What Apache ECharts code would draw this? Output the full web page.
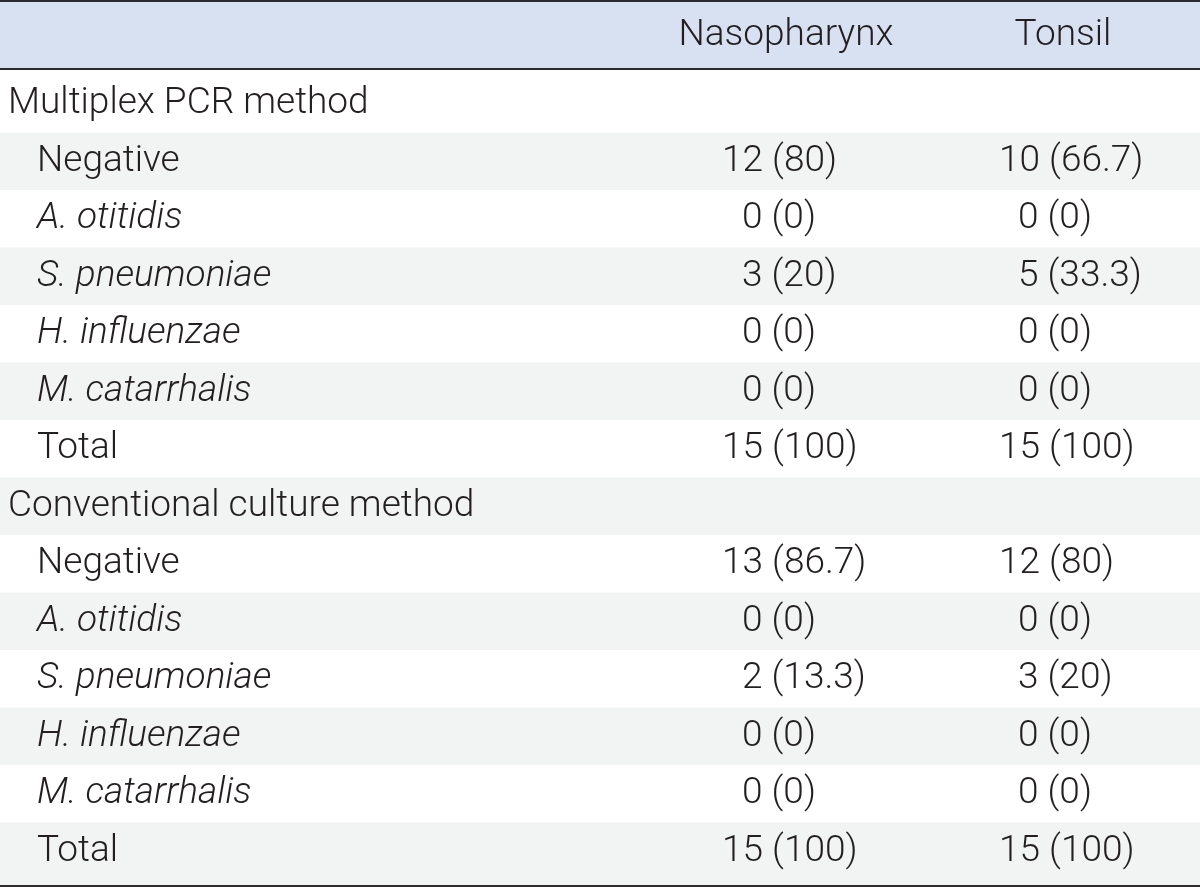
<!DOCTYPE html>
<html>
<head>
<meta charset="utf-8">
<script src="https://cdn.jsdelivr.net/npm/echarts@6/dist/echarts.min.js"></script>
<style>
html,body{margin:0;padding:0;background:#fff;}
#chart{width:1200px;height:887px;}
</style>
</head>
<body>
<div id="chart"></div>
<script>
// ---- data ----
const columnHeaders = ['', 'Nasopharynx', 'Tonsil'];
const rowLabels = [
  'Multiplex PCR method', 'Negative', 'A. otitidis', 'S. pneumoniae', 'H. influenzae', 'M. catarrhalis', 'Total',
  'Conventional culture method', 'Negative', 'A. otitidis', 'S. pneumoniae', 'H. influenzae', 'M. catarrhalis', 'Total'
];
const rowIsGroup = [true, false, false, false, false, false, false, true, false, false, false, false, false, false];
const rowIsSpecies = [false, false, true, true, true, true, false, false, false, true, true, true, true, false];
const nasoCount = [null, 12, 0, 3, 0, 0, 15, null, 13, 0, 2, 0, 0, 15];
const nasoPct = [null, 80, 0, 20, 0, 0, 100, null, 86.7, 0, 13.3, 0, 0, 100];
const tonsilCount = [null, 10, 0, 5, 0, 0, 15, null, 12, 0, 3, 0, 0, 15];
const tonsilPct = [null, 66.7, 0, 33.3, 0, 0, 100, null, 80, 0, 20, 0, 0, 100];

// ---- layout / style ----
const FONT = 'Roboto';
const FONT_SIZE = 37;
const FONT_WEIGHT = 300;
const TEXT_COLOR = '#231f20';
const LINE_COLOR = '#2b2b2b';
const HEADER_BG = '#d8e1f1';
const STRIPE_BG = '#f2f3f3';
const LAYOUT = {
  groupX: 8, itemX: 37,
  headerCenters: [0, 786, 1063],
  valueLeft: [722, 999], singleDigitShift: [20, 19],
  edgePad: 5
};

const fmt = (c, p) => c === null ? '' : c + ' (' + p + ')';
const bodyData = rowLabels.map((l, i) => [600, i]);

function textEl(x, y, str, align, italic) {
  return {
    type: 'text',
    style: {
      x: x, y: y, text: str, align: align, verticalAlign: 'middle',
      fill: TEXT_COLOR, fontFamily: FONT, fontSize: FONT_SIZE, fontWeight: FONT_WEIGHT,
      fontStyle: italic ? 'italic' : 'normal'
    }
  };
}

const option = {
  animation: false,
  backgroundColor: '#ffffff',
  grid: [
    { left: 0, right: 0, top: 0, height: 69 },
    { left: 0, right: 0, top: 75, bottom: 7 }
  ],
  xAxis: [
    { type: 'value', min: 0, max: 1200, gridIndex: 0, show: false },
    { type: 'value', min: 0, max: 1200, gridIndex: 1, show: false }
  ],
  yAxis: [
    { type: 'category', data: ['header'], gridIndex: 0, show: false },
    { type: 'category', data: rowLabels, gridIndex: 1, inverse: true, show: false }
  ],
  series: [
    {
      type: 'custom', xAxisIndex: 0, yAxisIndex: 0, silent: true,
      data: [[600, 0]],
      renderItem: function (params, api) {
        const c = api.coord([0, 0]);
        const h = api.size([0, 1])[1];
        const w = api.size([1200, 0])[0];
        const top = c[1] - h / 2;
        const children = [
          { type: 'rect', shape: { x: 0, y: top, width: w, height: h + 1 }, style: { fill: HEADER_BG } },
          { type: 'rect', shape: { x: 0, y: top, width: w, height: 2 }, style: { fill: LINE_COLOR } },
          { type: 'rect', shape: { x: 0, y: top + h - 1, width: w, height: 2 }, style: { fill: LINE_COLOR } }
        ];
        for (let k = 1; k < columnHeaders.length; k++) {
          const x = api.coord([LAYOUT.headerCenters[k], 0])[0];
          children.push(textEl(x, c[1] + 1, columnHeaders[k], 'center', false));
        }
        return { type: 'group', children: children };
      }
    },
    {
      type: 'custom', xAxisIndex: 1, yAxisIndex: 1, silent: true,
      data: bodyData,
      renderItem: function (params, api) {
        const i = params.dataIndex;
        const c = api.coord([0, i]);
        const h = api.size([0, 1])[1];
        const w = api.size([1200, 0])[0];
        let top = c[1] - h / 2;
        let hh = h;
        if (i === 0) { top -= LAYOUT.edgePad; hh += LAYOUT.edgePad; }
        if (i === rowLabels.length - 1) { hh += LAYOUT.edgePad; }
        const children = [];
        if (i % 2 === 1) {
          children.push({ type: 'rect', shape: { x: 0, y: top, width: w, height: hh }, style: { fill: STRIPE_BG } });
        }
        const lx = api.coord([rowIsGroup[i] ? LAYOUT.groupX : LAYOUT.itemX, i])[0];
        children.push(textEl(lx, c[1], rowLabels[i], 'left', rowIsSpecies[i]));
        const counts = [nasoCount[i], tonsilCount[i]];
        const pcts = [nasoPct[i], tonsilPct[i]];
        for (let k = 0; k < 2; k++) {
          if (counts[k] === null) continue;
          const vx = LAYOUT.valueLeft[k] + (counts[k] < 10 ? LAYOUT.singleDigitShift[k] : 0);
          const x = api.coord([vx, i])[0];
          children.push(textEl(x, c[1], fmt(counts[k], pcts[k]), 'left', false));
        }
        if (i === rowLabels.length - 1) {
          children.push({ type: 'rect', shape: { x: 0, y: top + hh, width: w, height: 2 }, style: { fill: LINE_COLOR } });
        }
        return { type: 'group', children: children };
      }
    }
  ]
};

const chart = echarts.init(document.getElementById('chart'), null, { renderer: 'canvas' });
chart.setOption(option);
</script>
</body>
</html>
